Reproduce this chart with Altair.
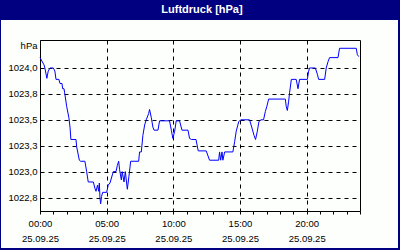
import altair as alt
import pandas as pd

# ---- data ----
times = ["00:00", "00:18", "00:22", "00:31", "00:37", "00:45", "01:00", "01:07", "01:12", "01:25",
         "01:30", "01:39", "01:42", "01:48", "01:51", "02:00", "02:10", "02:15", "02:19", "02:42",
         "02:45", "02:57", "03:03", "03:22", "03:30", "03:37", "04:00", "04:07", "04:12", "04:19",
         "04:24", "04:27", "04:30", "04:33", "04:37", "04:42", "05:00", "05:07", "05:15", "05:27",
         "05:30", "05:42", "05:48", "05:54", "05:58", "06:06", "06:10", "06:18", "06:24", "06:33",
         "06:40", "06:48", "07:24", "07:28", "07:36", "07:43", "07:51", "07:58", "08:09", "08:13",
         "08:21", "08:28", "08:33", "08:51", "08:58", "09:43", "09:51", "09:58", "10:06", "10:13",
         "10:28", "10:39", "11:06", "11:13", "11:22", "11:42", "11:52", "12:28", "12:43", "13:24",
         "13:28", "13:33", "13:39", "13:43", "13:51", "14:28", "14:36", "14:43", "14:54", "15:03",
         "15:43", "15:54", "16:03", "16:10", "16:18", "16:25", "16:33", "16:46", "16:54", "17:01",
         "17:09", "18:24", "18:28", "18:33", "18:39", "18:43", "18:51", "19:13", "19:21", "19:28",
         "20:03", "20:09", "20:13", "20:39", "20:48", "20:54", "21:21", "21:28", "21:36", "21:43",
         "22:21", "22:28", "23:43", "23:48", "23:54"]
pressure = [1024.10, 1024.03, 1024.00, 1023.90, 1023.97, 1024.00, 1024.00, 1023.97, 1023.89, 1023.89,
            1023.85, 1023.85, 1023.80, 1023.80, 1023.76, 1023.63, 1023.52, 1023.43, 1023.31, 1023.31,
            1023.24, 1023.11, 1023.10, 1023.10, 1023.00, 1022.90, 1022.90, 1022.84, 1022.81, 1022.87,
            1022.81, 1022.89, 1022.74, 1022.69, 1022.76, 1022.80, 1022.80, 1022.87, 1022.89, 1022.98,
            1023.00, 1023.00, 1023.06, 1023.10, 1023.02, 1022.92, 1023.00, 1022.90, 1023.00, 1022.83,
            1022.95, 1023.10, 1023.10, 1023.19, 1023.19, 1023.35, 1023.45, 1023.50, 1023.56, 1023.60,
            1023.52, 1023.43, 1023.40, 1023.40, 1023.49, 1023.49, 1023.40, 1023.32, 1023.39, 1023.49,
            1023.49, 1023.40, 1023.40, 1023.32, 1023.31, 1023.31, 1023.20, 1023.20, 1023.11, 1023.11,
            1023.19, 1023.11, 1023.19, 1023.11, 1023.19, 1023.19, 1023.29, 1023.39, 1023.48, 1023.50,
            1023.50, 1023.42, 1023.35, 1023.31, 1023.39, 1023.48, 1023.50, 1023.50, 1023.58, 1023.63,
            1023.70, 1023.70, 1023.63, 1023.59, 1023.68, 1023.76, 1023.89, 1023.89, 1023.80, 1023.89,
            1023.89, 1023.97, 1024.00, 1024.00, 1023.94, 1023.89, 1023.89, 1024.00, 1024.06, 1024.10,
            1024.10, 1024.19, 1024.19, 1024.13, 1024.11]
y_ticks = [1022.75, 1023.0, 1023.25, 1023.5, 1023.75, 1024.0]
y_domain = [1022.62, 1024.27]
x_ticks = list(range(0, 1441, 60))   # minutes after midnight, hourly ticks
title_text = "Luftdruck [hPa]"
unit_text = "hPa"
date_text = "25.09.25"

df = pd.DataFrame({"time": times, "hPa": pressure})
df["minute"] = df["time"].map(lambda s: int(s[:2]) * 60 + int(s[3:]))

FONT = "Liberation Sans"
NAVY = "#000080"
BG = "#FCFFFC"
W, H = 320, 171

x_label_expr = (
    "datum.value % 300 == 0 && datum.value < 1440 ? "
    "[(datum.value < 600 ? '0' : '') + floor(datum.value / 60) + ':00', '" + date_text + "'] : ''"
)

x_axis = alt.Axis(
    values=x_ticks, labelExpr=x_label_expr, labelOverlap=False, labelFlush=False,
    labelFont=FONT, labelFontSize=9.5, labelColor="black", labelLineHeight=15, labelPadding=4,
    tickColor="black", tickSize=3, domainColor="black", title=None,
    grid=True, gridColor="black", gridDash=[4, 4], gridWidth=1,
    gridOpacity={"condition": {"test": "datum.value % 300 == 0 && datum.value > 0 && datum.value < 1440",
                               "value": 1}, "value": 0},
)
y_axis = alt.Axis(
    values=y_ticks, labelExpr="replace(format(datum.value, '.1f'), '.', ',')",
    labelFont=FONT, labelFontSize=9.5, labelColor="black", labelPadding=3,
    ticks=False, domainColor="black",
    grid=True, gridColor="black", gridDash=[4, 4], gridWidth=1,
    title=unit_text, titleAngle=0, titleAlign="right", titleBaseline="middle",
    titleX=-3, titleY=5, titleFont=FONT, titleFontSize=9.5, titleFontWeight="normal", titleColor="black",
)

line = alt.Chart(df).mark_line(color="#0000FF", strokeWidth=1).encode(
    x=alt.X("minute:Q", scale=alt.Scale(domain=[0, 1440], nice=False, zero=False), axis=x_axis),
    y=alt.Y("hPa:Q", scale=alt.Scale(domain=y_domain, nice=False, zero=False), axis=y_axis),
)

one = alt.Data(values=[{}])
def frame_rect(x1, x2, y1, y2):
    return alt.Chart(one).mark_rect(color=NAVY).encode(
        x=alt.value(x1), x2=alt.value(x2), y=alt.value(y1), y2=alt.value(y2))

title_bar = frame_rect(-40, 360, -40, -20)
left_b = frame_rect(-40, -39, -40, 210)
right_b = frame_rect(358, 360, -40, 210)
bottom_b = frame_rect(-40, 360, 208, 210)

title = alt.Chart(one).mark_text(
    text=title_text, font=FONT, fontSize=11, fontWeight="bold", color="white",
    align="center", baseline="alphabetic",
).encode(x=alt.value(162), y=alt.value(-27.5))

chart = alt.layer(line, title_bar, left_b, right_b, bottom_b, title).properties(
    width=W, height=H,
    autosize=alt.AutoSizeParams(type="none"),
    padding={"left": 40, "top": 40, "right": 40, "bottom": 39},
    background=BG,
).configure_view(stroke="black", strokeWidth=1)

chart.save("out.html", embed_options={"renderer": "svg", "actions": False})
